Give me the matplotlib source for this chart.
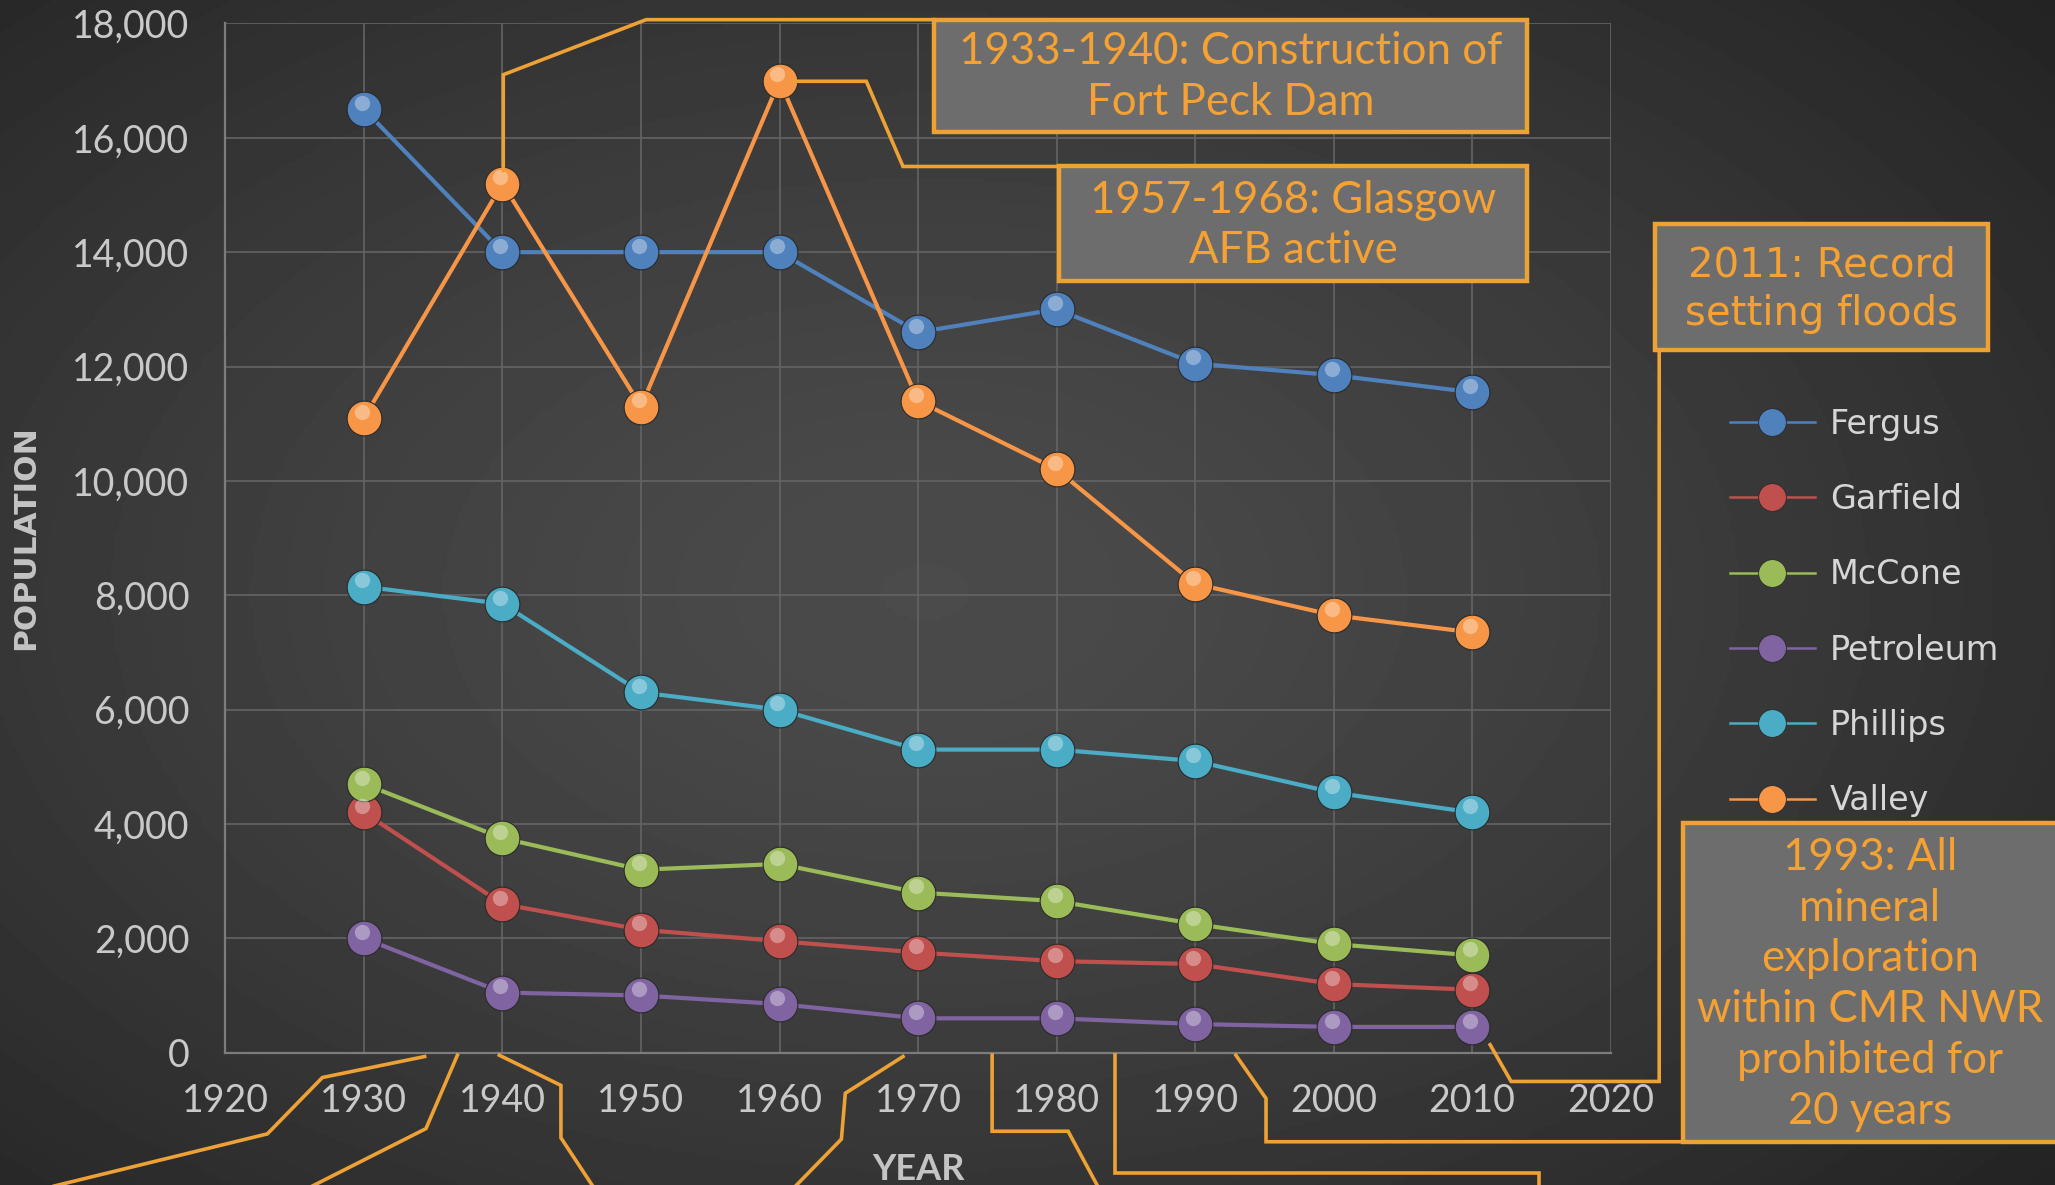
import numpy as np
import matplotlib.pyplot as plt
from matplotlib.lines import Line2D
from matplotlib.patches import Rectangle
from matplotlib.transforms import offset_copy

years = [1930, 1940, 1950, 1960, 1970, 1980, 1990, 2000, 2010]
fergus = [16500, 14000, 14000, 14000, 12600, 13000, 12050, 11850, 11550]
garfield = [4200, 2600, 2150, 1950, 1750, 1600, 1550, 1200, 1100]
mccone = [4700, 3750, 3200, 3300, 2800, 2650, 2250, 1900, 1700]
petroleum = [2000, 1050, 1000, 850, 600, 600, 500, 450, 450]
phillips = [8150, 7850, 6300, 6000, 5300, 5300, 5100, 4550, 4200]
valley = [11100, 15200, 11300, 17000, 11400, 10200, 8200, 7650, 7350]

names = ['Fergus', 'Garfield', 'McCone', 'Petroleum', 'Phillips', 'Valley']
colors = ['#4f81bd', '#c0504d', '#9bbb59', '#8064a2', '#4bacc6', '#f79646']
series = [fergus, garfield, mccone, petroleum, phillips, valley]

notes = [
    '1933-1940: Construction of\nFort Peck Dam',
    '1957-1968: Glasgow\nAFB active',
    '2011: Record\nsetting floods',
    '1993: All\nmineral\nexploration\nwithin CMR NWR\nprohibited for\n20 years',
]

ORANGE = '#eea236'
TXT_OR = '#f5a133'
LIGHT = '#c9c9c9'

fig = plt.figure(figsize=(20.55, 11.85), dpi=100)

# dark radial background
bg = fig.add_axes([0, 0, 1, 1], zorder=-5)
yy, xx = np.mgrid[0:1:300j, 0:1:520j]
r = np.sqrt(((xx - 0.45) / 0.75) ** 2 + ((yy - 0.5) / 0.8) ** 2)
val = 75 - 42 * np.clip(r, 0, 1) ** 1.4
bg.imshow(val, cmap='gray', vmin=0, vmax=255, aspect='auto', extent=[0, 1, 0, 1])
bg.axis('off')

ax = fig.add_axes([0.1097, 0.1117, 0.6741, 0.8685])
ax.set_facecolor('none')
ax.set_xlim(1920, 2020)
ax.set_ylim(0, 18000)
ax.set_xticks(range(1920, 2021, 10))
ax.set_yticks(range(0, 18001, 2000))
ax.set_yticklabels([f'{v:,}' for v in range(0, 18001, 2000)])
ax.grid(True, color='#646464', lw=1.2)
ax.set_axisbelow(True)
for s in ['top', 'right']:
    ax.spines[s].set_visible(False)
for s in ['left', 'bottom']:
    ax.spines[s].set_color('#7c7c7c')
    ax.spines[s].set_linewidth(1.6)
ax.tick_params(length=0, labelsize=27, labelcolor=LIGHT)
ax.tick_params(axis='y', pad=26)
ax.tick_params(axis='x', pad=22)
for lab in ax.get_xticklabels() + ax.get_yticklabels():
    lab.set_family('Lato')

hl = offset_copy(ax.transData, fig=fig, x=-1.5, y=4.5, units='points')
for name, col, vals in zip(names, colors, series):
    ax.plot(years, vals, '-', color=col, lw=3, zorder=3)
    ax.plot(years, vals, 'o', ms=25, mfc=col, mec='#2a2a2a', mew=0.8, zorder=4)
    ax.plot(years, vals, 'o', ms=11, mfc='white', mec='none', alpha=0.35,
            transform=hl, zorder=5)

ax.set_ylabel('POPULATION', fontsize=22.5, fontweight='bold', color='#c4c4c4',
              family='DejaVu Sans')
ax.yaxis.set_label_coords(-0.134, 0.5)
ax.set_xlabel('YEAR', fontsize=26, fontweight='bold', color='#c4c4c4', family='Lato')
ax.xaxis.label.set_va('baseline')
ax.xaxis.set_label_coords(0.5, -0.1235)

handles = [Line2D([], [], color=c, lw=1.8, marker='o', ms=20, mfc=c, mec='#2a2a2a', mew=0.6)
           for c in colors]
leg = ax.legend(handles, names, loc='upper left', bbox_to_anchor=(0.8418, 0.656),
                bbox_transform=fig.transFigure, frameon=False, borderpad=0,
                borderaxespad=0, handlelength=2.55, handletextpad=0.45,
                labelspacing=1.27, prop={'family': 'DejaVu Sans', 'size': 24})
for t in leg.get_texts():
    t.set_color('#d6d6d6')

# overlay in reference pixel units (1568 x 904 grid)
ov = fig.add_axes([0, 0, 1, 1], zorder=6)
ov.set_xlim(0, 1568)
ov.set_ylim(904, 0)
ov.axis('off')

connectors = [
    [(713, 15), (493, 15), (384, 57), (384, 130)],
    [(808, 127), (689, 127), (661, 62), (606, 62)],
    [(1266, 267), (1266, 825), (1153, 825), (1137, 797)],
    [(943, 805), (966, 838), (966, 871), (1284, 871)],
    [(851, 805), (851, 895), (1174, 895), (1174, 920)],
    [(757, 805), (757, 863), (815, 863), (843, 915)],
    [(324, 806), (246, 822), (204, 865), (20, 910)],
    [(349, 805), (325, 861), (228, 910)],
    [(381, 805), (428, 828), (428, 868), (457, 912)],
    [(689, 806), (645, 834), (642, 869), (600, 912)],
]
for pts in connectors:
    px, py = zip(*pts)
    ov.plot(px, py, color=ORANGE, lw=2.6, solid_joinstyle='miter', clip_on=True)

boxes = [
    (713, 15, 452, 86, 939, 59, 'Lato', 31.5, 1.3),
    (808, 127, 357, 87, 987, 172, 'Lato', 31.5, 1.3),
    (1263, 171, 254, 96, 1390, 221, 'DejaVu Sans', 29, 1.3),
    (1284, 628, 300, 243, 1427, 751, 'Lato', 31.5, 1.3),
]
for (x0, y0, w, h, tx, ty, fam, fs, ls), txt in zip(boxes, notes):
    ov.add_patch(Rectangle((x0, y0), w, h, facecolor='#6d6d6d', edgecolor=ORANGE,
                           lw=3.2, clip_on=False))
    ov.text(tx, ty, txt, ha='center', va='center', color=TXT_OR, family=fam,
            fontsize=fs, linespacing=ls)

fig.savefig('out.png', dpi=100)
